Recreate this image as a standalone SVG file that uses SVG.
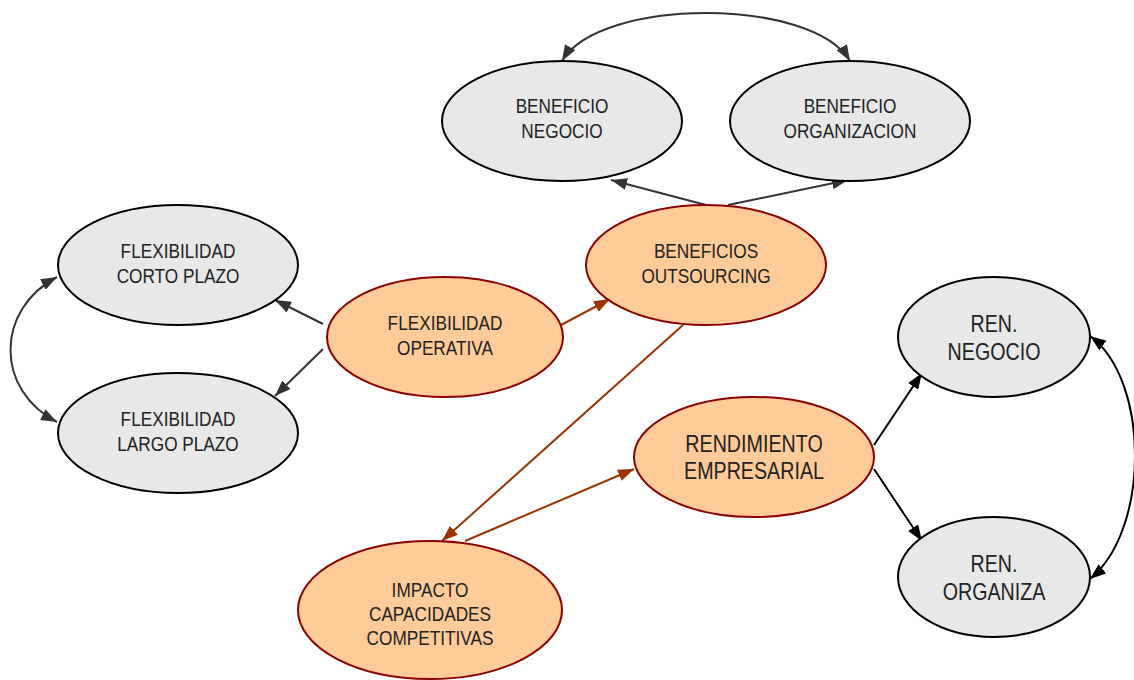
<svg xmlns="http://www.w3.org/2000/svg" width="1134" height="680" viewBox="0 0 1134 680">
  <style>
    .grey ellipse { fill: #e8e8e8; stroke: #000; stroke-width: 2; }
    .orange ellipse { fill: #ffcc99; stroke: #8b0000; stroke-width: 2; }
    text { font-family: "Liberation Sans Narrow", "Arial Narrow", "Liberation Sans", sans-serif; fill: #222; text-anchor: middle; }
    .s { font-size: 21px; }
    .l { font-size: 24px; }
    .dk { stroke: #333; stroke-width: 2; fill: none; }
    .bk { stroke: #000; stroke-width: 2; fill: none; }
    .br { stroke: #993300; stroke-width: 2; fill: none; }
  </style>
  <defs>
    <marker id="aDk" viewBox="0 0 16 12" refX="16" refY="6" markerWidth="16" markerHeight="12" markerUnits="userSpaceOnUse" orient="auto-start-reverse">
      <path d="M0,0 L16,6 L0,12 Z" fill="#333"/>
    </marker>
    <marker id="aBk" viewBox="0 0 16 12" refX="16" refY="6" markerWidth="16" markerHeight="12" markerUnits="userSpaceOnUse" orient="auto-start-reverse">
      <path d="M0,0 L16,6 L0,12 Z" fill="#000"/>
    </marker>
    <marker id="aBr" viewBox="0 0 16 12" refX="16" refY="6" markerWidth="16" markerHeight="12" markerUnits="userSpaceOnUse" orient="auto-start-reverse">
      <path d="M0,0 L16,6 L0,12 Z" fill="#993300"/>
    </marker>
  </defs>

  <g id="connectors">
    <path class="dk" d="M562,61 C600,-3 812,-3 850,61" marker-start="url(#aDk)" marker-end="url(#aDk)"/>
    <line class="dk" x1="706" y1="205" x2="611" y2="180" marker-end="url(#aDk)"/>
    <line class="dk" x1="728" y1="205" x2="848" y2="180" marker-end="url(#aDk)"/>
    <line class="dk" x1="323" y1="324" x2="275" y2="300" marker-end="url(#aDk)"/>
    <line class="dk" x1="323" y1="349" x2="275" y2="396" marker-end="url(#aDk)"/>
    <path class="dk" d="M57,277 C-5,310 -5,390 57,422" marker-start="url(#aDk)" marker-end="url(#aDk)"/>
    <line class="br" x1="561" y1="325" x2="610" y2="299" marker-end="url(#aBr)"/>
    <line class="br" x1="683" y1="325" x2="442" y2="541" marker-end="url(#aBr)"/>
    <line class="br" x1="465" y1="541" x2="634" y2="469" marker-end="url(#aBr)"/>
    <line class="bk" x1="874" y1="445" x2="922" y2="373" marker-end="url(#aBk)"/>
    <line class="bk" x1="874" y1="469" x2="922" y2="541" marker-end="url(#aBk)"/>
    <path class="bk" d="M1090,336 C1150,380 1150,530 1090,579" marker-start="url(#aBk)" marker-end="url(#aBk)"/>
  </g>

  <!-- labels are set in a narrowed sans: each line is placed by translate and squeezed horizontally -->
  <g id="beneficio-negocio" class="grey">
    <ellipse cx="562" cy="121" rx="120" ry="60"/>
    <text class="s" transform="translate(562,113) scale(0.82,1)">BENEFICIO</text>
    <text class="s" transform="translate(562,138) scale(0.82,1)">NEGOCIO</text>
  </g>
  <g id="beneficio-organizacion" class="grey">
    <ellipse cx="850" cy="121" rx="120" ry="60"/>
    <text class="s" transform="translate(850,113) scale(0.82,1)">BENEFICIO</text>
    <text class="s" transform="translate(850,138) scale(0.82,1)">ORGANIZACION</text>
  </g>
  <g id="beneficios-outsourcing" class="orange">
    <ellipse cx="706" cy="265" rx="120" ry="60"/>
    <text class="s" transform="translate(706,258) scale(0.82,1)">BENEFICIOS</text>
    <text class="s" transform="translate(706,283) scale(0.82,1)">OUTSOURCING</text>
  </g>
  <g id="flexibilidad-corto" class="grey">
    <ellipse cx="178" cy="265" rx="120" ry="60"/>
    <text class="s" transform="translate(178,258) scale(0.82,1)">FLEXIBILIDAD</text>
    <text class="s" transform="translate(178,283) scale(0.82,1)">CORTO PLAZO</text>
  </g>
  <g id="flexibilidad-largo" class="grey">
    <ellipse cx="178" cy="433" rx="120" ry="60"/>
    <text class="s" transform="translate(178,426) scale(0.82,1)">FLEXIBILIDAD</text>
    <text class="s" transform="translate(178,451) scale(0.82,1)">LARGO PLAZO</text>
  </g>
  <g id="flexibilidad-operativa" class="orange">
    <ellipse cx="445" cy="337" rx="118" ry="60"/>
    <text class="s" transform="translate(445,330) scale(0.82,1)">FLEXIBILIDAD</text>
    <text class="s" transform="translate(445,355) scale(0.82,1)">OPERATIVA</text>
  </g>
  <g id="rendimiento-empresarial" class="orange">
    <ellipse cx="754" cy="457" rx="120" ry="60"/>
    <text class="l" transform="translate(754,452) scale(0.82,1)">RENDIMIENTO</text>
    <text class="l" transform="translate(754,479) scale(0.82,1)">EMPRESARIAL</text>
  </g>
  <g id="ren-negocio" class="grey">
    <ellipse cx="994" cy="337" rx="96" ry="60"/>
    <text class="l" transform="translate(994,332) scale(0.82,1)">REN.</text>
    <text class="l" transform="translate(994,360) scale(0.82,1)">NEGOCIO</text>
  </g>
  <g id="ren-organiza" class="grey">
    <ellipse cx="994" cy="577" rx="96" ry="60"/>
    <text class="l" transform="translate(994,572) scale(0.82,1)">REN.</text>
    <text class="l" transform="translate(994,600) scale(0.82,1)">ORGANIZA</text>
  </g>
  <g id="impacto-capacidades" class="orange">
    <ellipse cx="430" cy="610" rx="132" ry="69"/>
    <text class="s" transform="translate(430,597) scale(0.82,1)">IMPACTO</text>
    <text class="s" transform="translate(430,621) scale(0.82,1)">CAPACIDADES</text>
    <text class="s" transform="translate(430,645) scale(0.82,1)">COMPETITIVAS</text>
  </g>
</svg>
